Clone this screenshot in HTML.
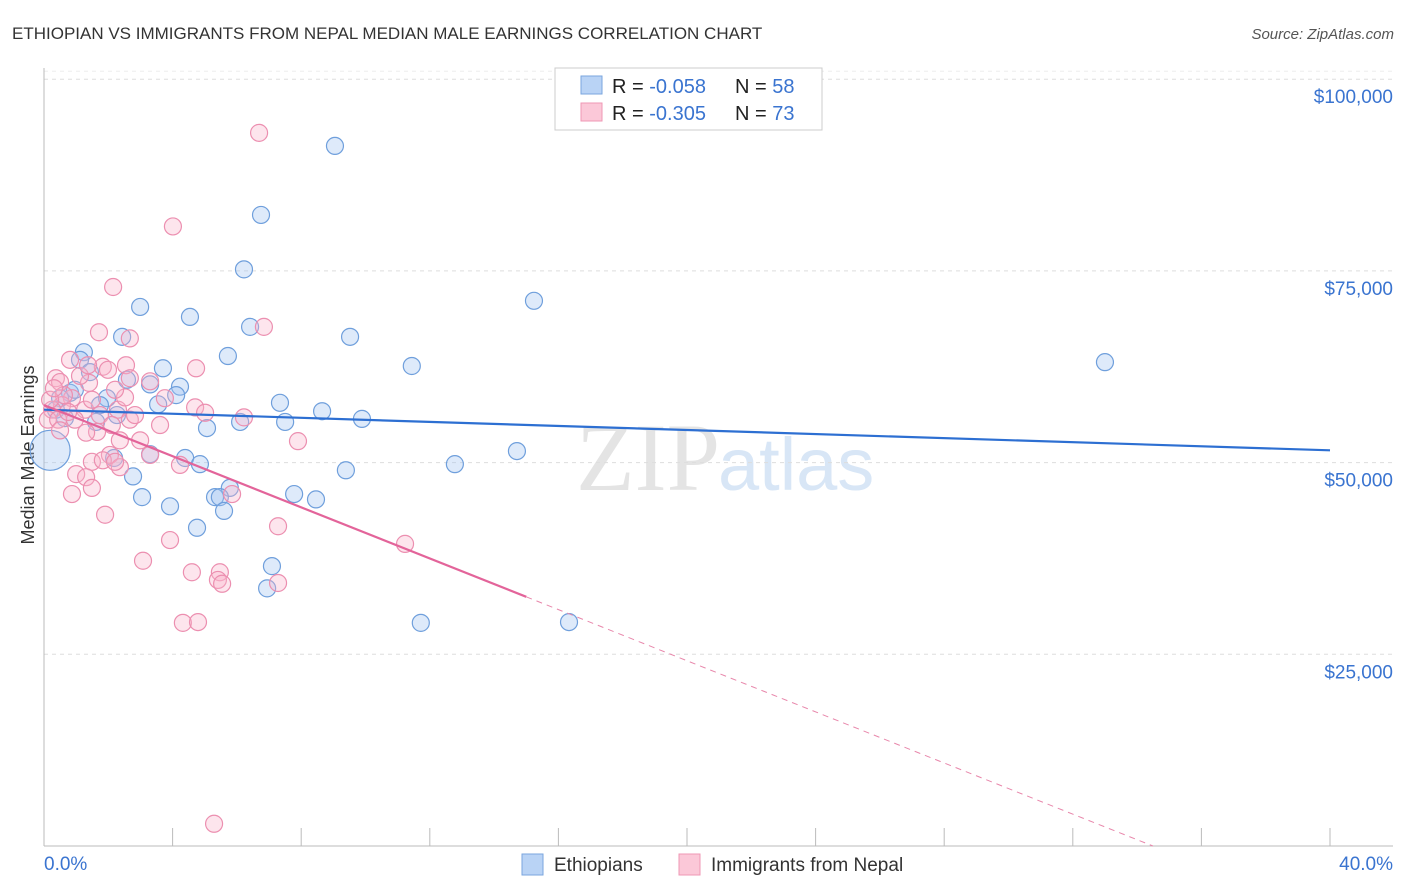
<!DOCTYPE html>
<html><head><meta charset="utf-8">
<style>
body{margin:0;background:#fff;font-family:"Liberation Sans",sans-serif;}
#wrap{position:relative;width:1406px;height:892px;overflow:hidden;}
</style></head>
<body>
<div id="wrap">
<svg id="svg" width="1406" height="892" xmlns="http://www.w3.org/2000/svg">
<text x="12" y="39" font-size="17" fill="#333">ETHIOPIAN VS IMMIGRANTS FROM NEPAL MEDIAN MALE EARNINGS CORRELATION CHART</text>
<text x="1394" y="39" font-size="15" fill="#555" font-style="italic" text-anchor="end">Source: ZipAtlas.com</text>
<text x="720" y="490" font-size="96" fill="#e4e4e4" text-anchor="end" font-family="Liberation Serif">ZIP</text>
<text x="718" y="490" font-size="74" fill="#d8e6f6">atlas</text>
<text transform="translate(34,455) rotate(-90)" font-size="18" fill="#333" text-anchor="middle">Median Male Earnings</text>
<g id="grid"></g><g id="marks"></g>
<g>
<rect x="555" y="68" width="267" height="62" fill="#fff" stroke="#ccc"/>
<rect x="581" y="76" width="21" height="18" fill="#b9d3f5" stroke="#7aa6de"/>
<rect x="581" y="103" width="21" height="18" fill="#fbc8d8" stroke="#ef97b4"/>
<text x="612" y="93" font-size="20" fill="#222">R = <tspan fill="#3a74d0">-0.058</tspan></text>
<text x="735" y="93" font-size="20" fill="#222">N = <tspan fill="#3a74d0">58</tspan></text>
<text x="612" y="120" font-size="20" fill="#222">R = <tspan fill="#3a74d0">-0.305</tspan></text>
<text x="735" y="120" font-size="20" fill="#222">N = <tspan fill="#3a74d0">73</tspan></text>
</g>
<g>
<rect x="522" y="854" width="21" height="21" fill="#b9d3f5" stroke="#7aa6de"/>
<text x="554" y="871" font-size="19" fill="#333">Ethiopians</text>
<rect x="679" y="854" width="21" height="21" fill="#fbc8d8" stroke="#ef97b4"/>
<text x="711" y="871" font-size="19" fill="#333">Immigrants from Nepal</text>
</g>
</svg>
</div>
<script>
const yTicks=[25000,50000,75000,100000];
const yTickLabels=["$25,000","$50,000","$75,000","$100,000"];
const xTickVals=[0,4,8,12,16,20,24,28,32,36,40];
const blueX=[9.05,6.75,6.22,15.24,2.99,4.54,6.41,9.52,2.43,1.24,5.72,1.12,3.70,11.44,33.0,1.43,2.58,3.30,4.23,4.11,0.81,1.96,3.55,7.34,0.50,8.65,9.89,6.10,7.50,1.62,5.07,2.27,3.30,4.39,4.85,2.18,9.39,12.78,14.71,2.77,5.78,7.78,8.46,3.05,3.92,5.32,5.47,5.60,4.76,7.09,6.94,11.72,16.33,0.19,0.37,0.65,0.96,1.74];
const blueY=[91.3,82.3,75.2,71.1,70.3,69.0,67.7,66.4,66.4,64.4,63.9,63.4,62.3,62.6,63.1,61.8,60.8,60.2,59.9,58.8,59.1,58.4,57.6,57.8,58.4,56.7,55.7,55.3,55.3,55.3,54.5,56.2,51.1,50.6,49.8,50.6,49.0,49.8,51.5,48.2,46.7,45.9,45.2,45.5,44.3,45.5,45.5,43.7,41.5,36.5,33.6,29.1,29.2,51.6,56.9,55.8,59.5,57.5];
const pinkX=[6.69,4.01,2.15,6.84,1.71,2.67,4.73,2.55,0.81,1.83,0.37,1.40,0.50,0.87,0.56,0.25,0.12,0.44,1.28,2.30,2.52,3.30,1.99,4.70,5.01,3.61,6.22,1.65,2.99,1.31,7.90,2.05,1.49,2.36,4.23,1.83,5.85,1.00,1.31,1.49,0.87,1.90,3.92,3.08,4.60,5.47,5.41,5.54,7.28,7.28,11.23,4.32,4.79,5.29,0.50,0.62,0.19,1.12,2.21,2.67,3.30,2.21,0.96,2.67,0.75,1.74,1.37,2.36,3.76,2.83,1.49,0.31,2.11];
const pinkY=[93.0,80.8,72.9,67.7,67.0,66.2,62.3,62.7,63.4,62.5,61.0,60.4,60.5,58.4,57.5,56.9,55.6,55.6,56.9,56.9,58.5,60.6,62.1,57.2,56.5,54.9,55.9,54.0,52.9,53.9,52.8,51.0,50.1,49.4,49.7,50.3,45.9,48.5,48.1,46.7,45.9,43.2,39.9,37.2,35.7,35.7,34.7,34.2,34.3,41.7,39.4,29.1,29.2,2.9,54.2,58.8,58.2,61.3,59.5,61.0,51.0,50.1,55.6,55.6,56.6,56.2,62.7,52.9,58.4,56.2,58.2,59.7,54.9];
const blueTrend=[56.9,51.6];
const pinkTrend=[57.5,-1.667];
const NS="http://www.w3.org/2000/svg";
const X0=44,X1=1330,YB=846;
function xs(p){return X0+p*(X1-X0)/40;}
function ys(v){return YB-v*0.007668;}
function mk(t,a,parent){const e=document.createElementNS(NS,t);for(const k in a)e.setAttribute(k,a[k]);parent.appendChild(e);return e;}
const grid=document.getElementById('grid'),marks=document.getElementById('marks');
yTicks.forEach((v,i)=>{
 const l=mk('line',{x1:X0,x2:1393,y1:ys(v),y2:ys(v),stroke:'#ddd','stroke-dasharray':'4,4'},grid);
 
 
 const t=mk('text',{x:1393,y:ys(v)+24,'font-size':19,fill:'#3a74d0','text-anchor':'end'},grid);
 t.textContent=yTickLabels[i];
 
 
});
const tl=mk('line',{x1:X0,x2:1393,y1:ys(100000)-8,y2:ys(100000)-8,stroke:'#eee','stroke-dasharray':'4,4'},grid);
const ax=mk('line',{x1:X0,x2:1393,y1:YB,y2:YB,stroke:'#bbb'},grid);


const ay=mk('line',{x1:X0,x2:X0,y1:68,y2:YB,stroke:'#bbb'},grid);


xTickVals.forEach(p=>{
 const l=mk('line',{x1:xs(p),x2:xs(p),y1:828,y2:YB,stroke:'#bbb'},grid);
 
 
});
[[0,'0.0%','start',44],[40,'40.0%','end',1393]].forEach(d=>{
 const t=mk('text',{x:d[3],y:870,'font-size':19,fill:'#3a74d0','text-anchor':d[2]},grid);
 t.textContent=d[1];
 
 
});
function pts(xa,ya,fill,stroke,name){
 xa.forEach((p,i)=>{
  const r=(p<0.3&&Math.abs(ya[i]-51.6)<0.5)?20:8.5;
  const c=mk('circle',{cx:xs(p),cy:ys(ya[i]*1000),r:r,fill:fill,stroke:stroke,'stroke-width':1.2},marks);
  
  
 });
}
pts(blueX,blueY,'rgba(160,196,240,0.35)','#6f9fdc','ethiopian-point');
pts(pinkX,pinkY,'rgba(248,180,204,0.35)','#ec8fb0','nepal-point');
const bl=mk('line',{x1:xs(0),y1:ys(blueTrend[0]*1000),x2:xs(40),y2:ys(blueTrend[1]*1000),stroke:'#2d6fd2','stroke-width':2.2},marks);


const pe=15, pz=-pinkTrend[0]/pinkTrend[1];
const pl=mk('line',{x1:xs(0),y1:ys(pinkTrend[0]*1000),x2:xs(pe),y2:ys((pinkTrend[0]+pinkTrend[1]*pe)*1000),stroke:'#e3649a','stroke-width':2.2},marks);


const pd=mk('line',{x1:xs(pe),y1:ys((pinkTrend[0]+pinkTrend[1]*pe)*1000),x2:xs(pz),y2:ys(0),stroke:'#e887ab','stroke-width':1,'stroke-dasharray':'6,5'},marks);


</script>
</body></html>
